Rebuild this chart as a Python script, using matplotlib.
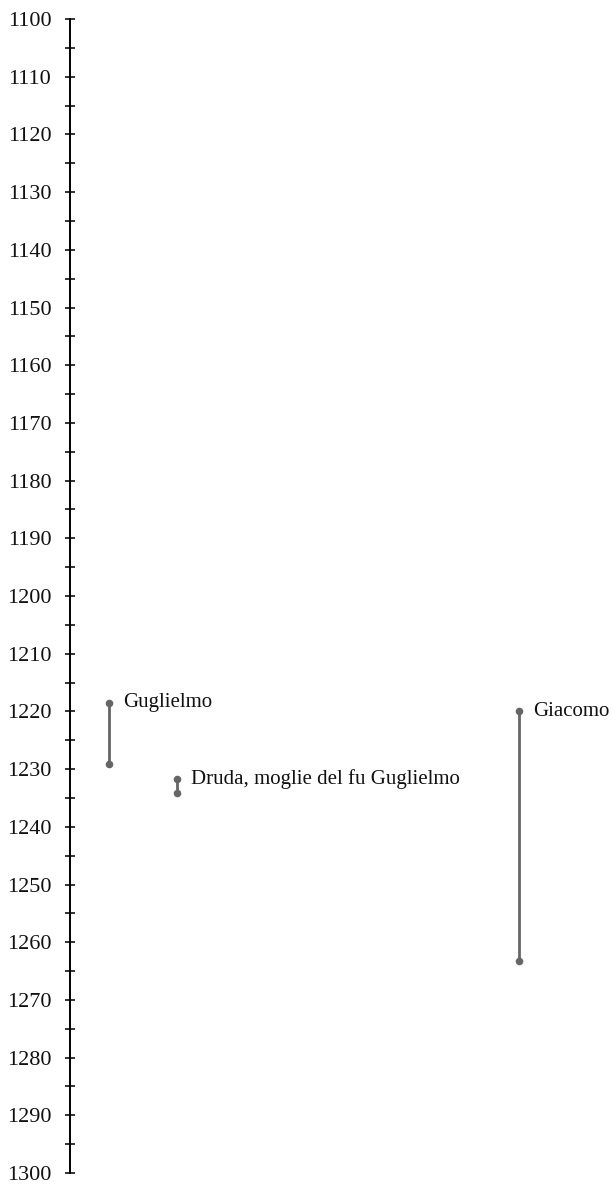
import matplotlib.pyplot as plt
from matplotlib.ticker import MultipleLocator

# persons: name, lane, first and last attestation
names = ['Guglielmo', 'Druda, moglie del fu Guglielmo', 'Giacomo']
lanes = [0, 1, 6]
start_years = [1218.5, 1231.8, 1220.0]
end_years = [1229.2, 1234.1, 1263.2]

plt.rcParams['font.family'] = ['Liberation Serif', 'DejaVu Serif']

fig = plt.figure(figsize=(6.13, 11.85), dpi=100)
# axis line at x=70px, 1100 at y=19px, 1300 at y=1173px
ax = fig.add_axes([70 / 613, 12 / 1185, 543 / 613, 1154 / 1185])

color = '#666666'
for name, x, y0, y1 in zip(names, lanes, start_years, end_years):
    ax.plot([x, x], [y0, y1], color=color, lw=2, solid_capstyle='butt', zorder=2)
    ax.scatter([x, x], [y0, y1], s=30, color=color, zorder=3, linewidths=0)
    ax.annotate(name, (x, y0), xytext=(10, 0), textcoords='offset points',
                va='center', ha='left', fontsize=15, color='#111111')

ax.set_ylim(1300, 1100)
ax.set_xlim(-0.571, 7.38)

ax.yaxis.set_major_locator(MultipleLocator(10))
ax.yaxis.set_minor_locator(MultipleLocator(5))
ax.tick_params(axis='y', which='both', direction='inout', length=7, width=1.2,
               labelsize=16, pad=10, colors='#111111')
ax.set_xticks([])

for side in ['top', 'right', 'bottom']:
    ax.spines[side].set_visible(False)
ax.spines['left'].set_linewidth(1.4)
ax.patch.set_alpha(0)

fig.savefig('out.png', dpi=100)
